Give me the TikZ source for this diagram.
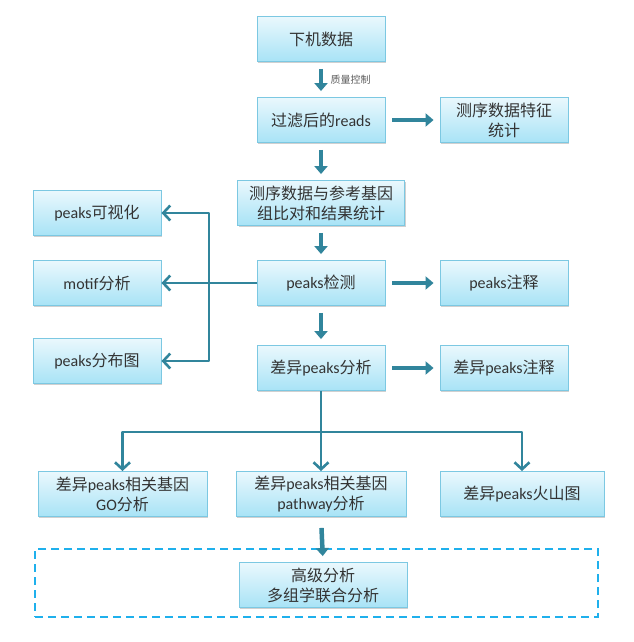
\documentclass[tikz,border=0pt]{standalone}
\usepackage{fontspec}
\setmainfont{Carlito}
\newfontfamily\cjk{Noto Sans CJK SC}
\usetikzlibrary{arrows.meta,shadows,calc}
\definecolor{teal}{HTML}{31859C}
\definecolor{boxtop}{HTML}{EAF8FD}
\definecolor{boxbot}{HTML}{A8E3F6}
\definecolor{boxline}{HTML}{7CC8E2}
\definecolor{txt}{HTML}{333333}
\definecolor{dashc}{HTML}{1FB0EC}
\newcommand{\zh}[1]{{\cjk #1}}
\tikzset{
  stepbox/.style={rectangle, draw=boxline, line width=0.9pt, top color=boxtop, bottom color=boxbot,
    minimum width=128pt, minimum height=45pt, inner sep=1pt, align=center, text=txt,
    font=\fontsize{16}{20}\selectfont,
    drop shadow={shadow xshift=1.2pt, shadow yshift=-1.8pt, opacity=0.3, fill=black!60}},
  bigarrow/.style={draw=teal, line width=4.5pt, -{Triangle[length=8pt,width=13pt]}, shorten <=7pt, shorten >=6pt},
  smallarrow/.style={draw=teal, line width=2.6pt, line join=round},
  barb/.tip={Straight Barb[length=7pt,width=15pt,line width=2.6pt]},
  dashframe/.style={draw=dashc, line width=2.2pt, dash pattern=on 8pt off 5pt, minimum width=563pt, minimum height=68pt, inner sep=0pt}
}
\begin{document}
\begin{tikzpicture}[x=1pt,y=-1pt]
\useasboundingbox (0,0) rectangle (633,642);
\fill[white] (0,0) rectangle (633,642);

\node[dashframe] (frame) at (316.5,583) {};

\node[stepbox] (raw) at (321,39) {\zh{下机数据}};
\node[stepbox] (clean) at (321,120) {\zh{过滤后的}reads};
\node[stepbox] (stat) at (504,120) {\zh{测序数据特征}\\\zh{统计}};
\node[stepbox, minimum width=167pt] (align) at (321,203) {\zh{测序数据与参考基因}\\\zh{组比对和结果统计}};
\node[stepbox] (vis) at (97,213) {peaks\zh{可视化}};
\node[stepbox] (motif) at (97,283) {motif\zh{分析}};
\node[stepbox] (peak) at (321,283) {peaks\zh{检测}};
\node[stepbox] (anno) at (504,283) {peaks\zh{注释}};
\node[stepbox] (dist) at (97,361) {peaks\zh{分布图}};
\node[stepbox] (diff) at (321,368) {\zh{差异}peaks\zh{分析}};
\node[stepbox] (danno) at (504,368) {\zh{差异}peaks\zh{注释}};
\node[stepbox, minimum width=169pt] (go) at (122.5,494) {\zh{差异}peaks\zh{相关基因}\\GO\zh{分析}};
\node[stepbox, minimum width=170pt] (path) at (321,494) {\zh{差异}peaks\zh{相关基因}\\pathway\zh{分析}};
\node[stepbox, minimum width=164pt] (volc) at (522,494) {\zh{差异}peaks\zh{火山图}};
\node[stepbox, minimum width=168pt] (adv) at (323,585) {\zh{高级分析}\\\zh{多组学联合分析}};

\draw[bigarrow] (raw) -- node[right=4pt, font=\fontsize{10}{11}\selectfont, text=txt!80] {\zh{质量控制}} (clean);
\draw[bigarrow] (clean) -- (stat);
\draw[bigarrow] (clean) -- (align);
\draw[bigarrow] (align) -- (peak);
\draw[bigarrow] (peak) -- (anno);
\draw[bigarrow] (peak) -- (diff);
\draw[bigarrow] (diff) -- (danno);
\draw[bigarrow, shorten <=11pt] (path.south) -- (adv.north);

\coordinate (jx) at (209,283);
\draw[smallarrow, -barb] (peak.west) -- (motif.east);
\draw[smallarrow, barb-barb] (vis.east) -| (jx) |- (dist.east);

\coordinate (fork) at (321,432);
\draw[smallarrow] (diff.south) -- (fork);
\draw[smallarrow, barb-barb] (go.north) |- (volc.north |- fork) -- (volc.north);
\draw[smallarrow, -barb] (fork) -- (path.north);
\end{tikzpicture}
\end{document}
